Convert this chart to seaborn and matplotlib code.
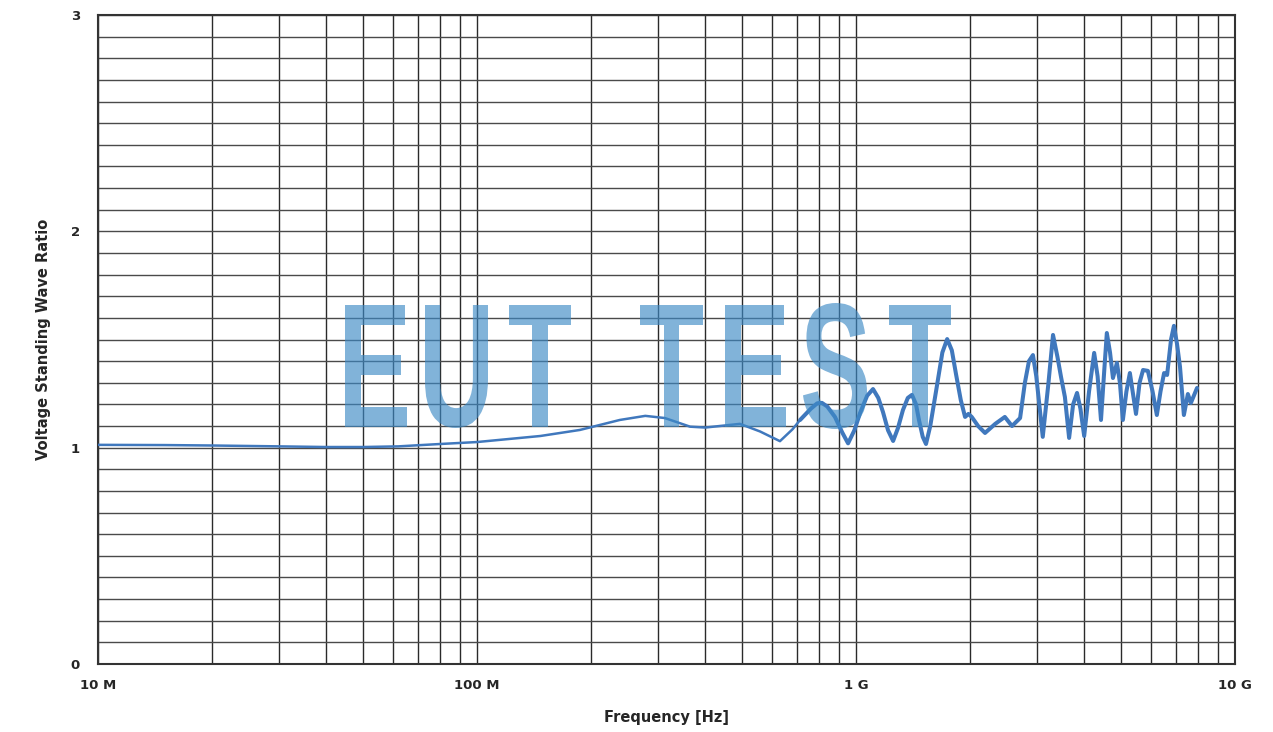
import numpy as np
import seaborn as sns
import matplotlib.pyplot as plt
from matplotlib.ticker import LogLocator, MultipleLocator, FixedLocator, FixedFormatter, NullFormatter
from matplotlib.textpath import TextPath
from matplotlib.patches import PathPatch
from matplotlib.font_manager import FontProperties
from matplotlib.transforms import Affine2D

# frequency in MHz, VSWR
freq_mhz = [10, 15, 20, 30, 40, 50, 62, 80, 100, 147, 187, 238, 278, 313, 365, 400,
            494, 558, 630, 680, 712, 760, 790, 813, 840, 880, 920, 953, 990, 1025,
            1070, 1109, 1145, 1178, 1215, 1253, 1290, 1330, 1370, 1405, 1440, 1466,
            1500, 1530, 1570, 1626, 1690, 1740, 1790, 1836, 1890, 1940, 1980, 2020,
            2100, 2190, 2330, 2470, 2580, 2710, 2790, 2860, 2930, 2990, 3110, 3220,
            3310, 3400, 3475, 3558, 3650, 3740, 3830, 3910, 4000, 4120, 4250, 4340,
            4430, 4520, 4590, 4680, 4764, 4880, 4970, 5060, 5170, 5280, 5380, 5480,
            5600, 5720, 5890, 6060, 6220, 6360, 6500, 6620, 6780, 6900, 7030, 7160,
            7330, 7510, 7650, 7940]
vswr = [1.013, 1.012, 1.010, 1.006, 1.003, 1.003, 1.006, 1.017, 1.026, 1.054, 1.082,
        1.128, 1.147, 1.137, 1.097, 1.093, 1.110, 1.075, 1.030, 1.085, 1.128, 1.180,
        1.205, 1.207, 1.190, 1.142, 1.070, 1.020, 1.080, 1.160, 1.240, 1.271, 1.230,
        1.165, 1.080, 1.031, 1.090, 1.174, 1.230, 1.244, 1.200, 1.128, 1.050, 1.017,
        1.100, 1.260, 1.440, 1.502, 1.450, 1.340, 1.220, 1.142, 1.156, 1.142, 1.100,
        1.068, 1.110, 1.142, 1.100, 1.137, 1.300, 1.400, 1.428, 1.330, 1.050, 1.300,
        1.521, 1.420, 1.327, 1.234, 1.045, 1.200, 1.253, 1.180, 1.054, 1.260, 1.438,
        1.330, 1.128, 1.360, 1.530, 1.440, 1.322, 1.392, 1.300, 1.128, 1.260, 1.345,
        1.250, 1.156, 1.300, 1.359, 1.355, 1.260, 1.151, 1.260, 1.345, 1.336, 1.500,
        1.563, 1.480, 1.373, 1.151, 1.248, 1.207, 1.276]

xtick_vals = [1e7, 1e8, 1e9, 1e10]
xtick_labels = ["10 M", "100 M", "1 G", "10 G"]
ytick_vals = [0, 1, 2, 3]

# watermark letters and their pixel boxes (left, right, top, bottom)
wm_letters = ["E", "U", "T", "T", "E", "S", "T"]
wm_boxes = [(345, 407, 305, 427), (425, 488, 305, 428), (509, 571, 305, 427),
            (640, 703, 305, 427), (725, 786, 305, 427), (803, 867, 303, 429),
            (889, 951, 305, 427)]

freq_hz = np.array(freq_mhz) * 1e6
vswr = np.array(vswr)

sns.set_style("white")
plt.rcParams['font.family'] = ['DejaVu Sans']

W, H = 1273, 732
fig = plt.figure(figsize=(W / 100, H / 100), dpi=100)
ax = fig.add_axes([98 / W, 68 / H, (1235 - 98) / W, (664 - 15) / H])

line_color = "#4078bd"
split = 20  # thinner trace below ~700 MHz, thicker above
sns.lineplot(x=freq_hz[:split + 1], y=vswr[:split + 1], ax=ax, color=line_color,
             lw=1.8, zorder=4)
sns.lineplot(x=freq_hz[split:], y=vswr[split:], ax=ax, color=line_color,
             lw=2.9, zorder=4)

ax.set_xscale("log")
ax.set_xlim(1e7, 1e10)
ax.set_ylim(0, 3)

ax.xaxis.set_major_locator(FixedLocator(xtick_vals))
ax.xaxis.set_major_formatter(FixedFormatter(xtick_labels))
ax.xaxis.set_minor_locator(LogLocator(base=10, subs=np.arange(2, 10)))
ax.xaxis.set_minor_formatter(NullFormatter())
ax.yaxis.set_major_locator(FixedLocator(ytick_vals))
ax.yaxis.set_minor_locator(MultipleLocator(0.1))

ax.grid(which="both", axis="x", color="#2a2a2a", lw=1.0, zorder=1)
ax.grid(which="both", axis="y", color="#4a4a4a", lw=1.0, zorder=1)
ax.set_axisbelow(True)

for s in ax.spines.values():
    s.set_color("#333333")
    s.set_linewidth(1.5)

ax.tick_params(axis="both", which="major", direction="out", length=5, width=1,
               color="#333333", labelsize=9.5)
ax.tick_params(axis="both", which="minor", length=0)
ax.tick_params(axis="y", pad=8)
ax.tick_params(axis="x", pad=6)
for lab in ax.get_xticklabels() + ax.get_yticklabels():
    lab.set_fontweight("bold")

ax.set_xlabel("Frequency [Hz]", fontsize=10.5, fontweight="bold", labelpad=13)
ax.set_ylabel("Voltage Standing Wave Ratio", fontsize=10.5, fontweight="bold",
              labelpad=14)

# watermark "EUT TEST", each letter fitted into its pixel box
fp = FontProperties(family=["Liberation Sans", "DejaVu Sans"], weight="bold")
for ch, (lx, rx, ty, by) in zip(wm_letters, wm_boxes):
    tp = TextPath((0, 0), ch, size=100, prop=fp)
    ext = tp.get_extents()
    tr = (Affine2D().translate(-ext.x0, -ext.y0)
          .scale((rx - lx) / ext.width, (by - ty) / ext.height)
          .translate(lx, H - by))
    wm = PathPatch(tr.transform_path(tp), facecolor="#3d8ac6", edgecolor="none",
                   alpha=0.65, transform=None, zorder=3)
    wm.set_figure(fig)
    fig.patches.append(wm)

fig.savefig("out.png", dpi=100)
